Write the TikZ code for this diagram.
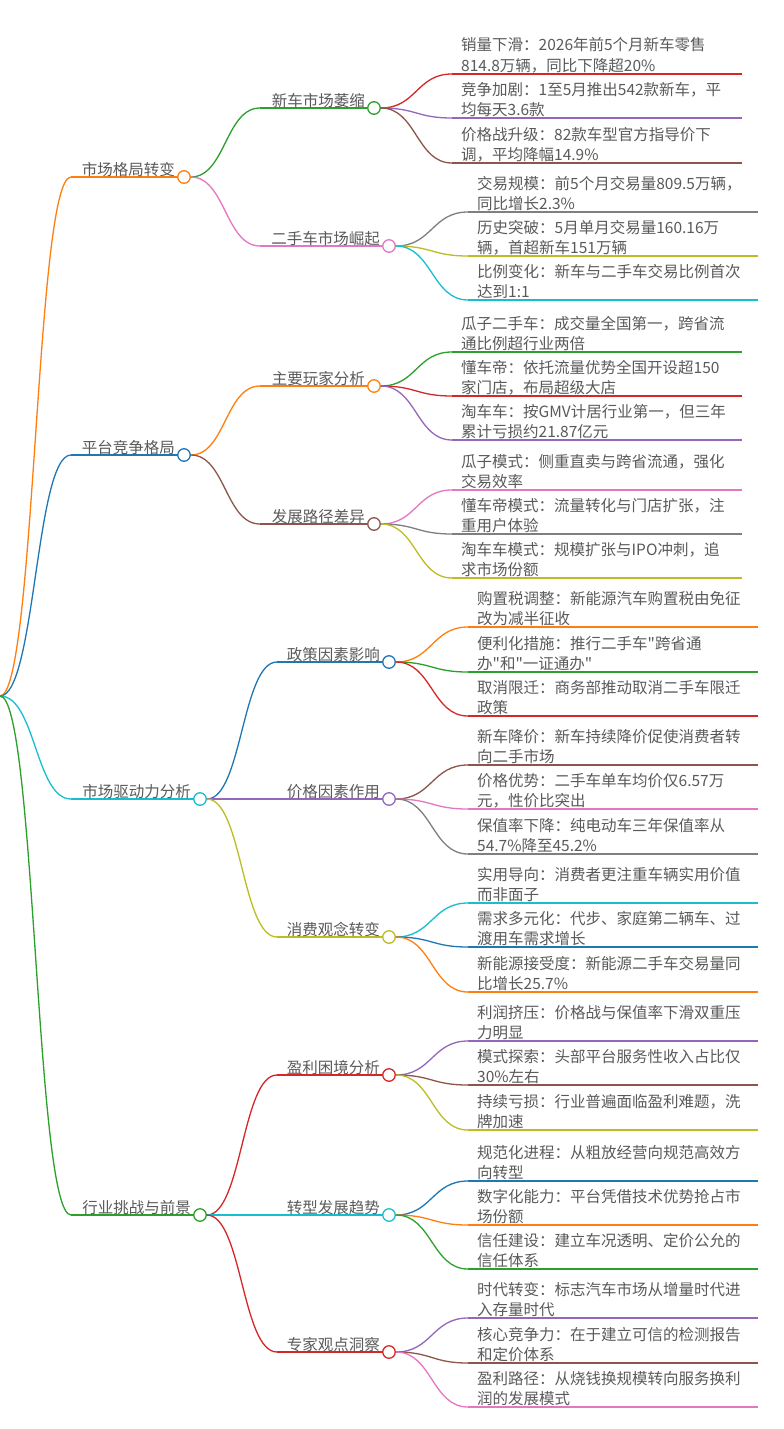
\documentclass[tikz,border=0pt]{standalone}
\usepackage{fontspec}
\setmainfont{Noto Sans CJK SC}
\newfontfamily\qfont[Ligatures=ResetAll]{Noto Sans CJK SC}
\usetikzlibrary{calc}
\definecolor{cblue}{HTML}{1F77B4}
\definecolor{corange}{HTML}{FF7F0E}
\definecolor{cgreen}{HTML}{2CA02C}
\definecolor{cred}{HTML}{D62728}
\definecolor{cpurple}{HTML}{9467BD}
\definecolor{cbrown}{HTML}{8C564B}
\definecolor{cpink}{HTML}{E377C2}
\definecolor{cgray}{HTML}{7F7F7F}
\definecolor{colive}{HTML}{BCBD22}
\definecolor{ccyan}{HTML}{17BECF}
\definecolor{txtgray}{HTML}{5A5A5A}
\newcommand{\sq}{{\qfont\char34}}
\tikzset{
  link/.style={line width=1.3pt,
    to path={let \p1=(\tikztostart), \p2=(\tikztotarget) in
      .. controls ({(\x1+\x2)/2},\y1) and ({(\x1+\x2)/2},\y2) .. (\tikztotarget)}},
  uline/.style={line width=1.3pt},
  dot/.style={circle, draw=#1, fill=white, line width=1.3pt, minimum size=12.5pt, inner sep=0pt},
  lbl/.style={inner sep=0pt, text=txtgray, font=\fontsize{15.5}{20}\selectfont},
  leaftext/.style={inner sep=0pt, text=txtgray, font=\fontsize{15.5}{20}\selectfont},
}
\newcommand{\mmlone}[5]{%
  \coordinate (#1-s) at (71,#3);
  \node[dot=#4] (#1) at (#2,#3) {};
  \draw[link,#4] (R) to (#1-s);
  \draw[uline,#4] (#1-s) -- (#1.west);
  \node[lbl, anchor=base east] (#1-t) at (#2-9,#3-2) {#5};
}
\newcommand{\mmltwo}[7]{%
  \coordinate (#1-s) at (#3,#5);
  \node[dot=#6] (#1) at (#4,#5) {};
  \draw[link,#6] (#2.east) to (#1-s);
  \draw[uline,#6] (#1-s) -- (#1.west);
  \node[lbl, anchor=base east] (#1-t) at (#4-9,#5-2) {#7};
}
\newcommand{\mmleaf}[7]{%
  \coordinate (#1-s) at (#3,#4);
  \coordinate (#1-e) at (#3+290,#4);
  \draw[link,#5] (#2.east) to (#1-s);
  \draw[uline,#5] (#1-s) -- (#1-e);
  \node[leaftext, anchor=base west] (#1-a) at (#3+9,#4-23) {#6};
  \node[leaftext, anchor=base west] (#1-b) at (#3+9,#4-3) {#7};
}
\begin{document}
\begin{tikzpicture}[x=1pt,y=-1pt]
\useasboundingbox[fill=white] (0,0) rectangle (784,1429);
\coordinate (R) at (0,696);
% level 1
\mmlone{A}{184}{177}{corange}{市场格局转变}
\mmlone{B}{184}{455}{cblue}{平台竞争格局}
\mmlone{C}{200}{799}{ccyan}{市场驱动力分析}
\mmlone{D}{200}{1215}{cgreen}{行业挑战与前景}
% level 2
\mmltwo{A1}{A}{260}{374}{108}{cgreen}{新车市场萎缩}
\mmltwo{A2}{A}{260}{389}{246}{cpink}{二手车市场崛起}
\mmltwo{B1}{B}{260}{374}{386}{corange}{主要玩家分析}
\mmltwo{B2}{B}{260}{374}{524}{cbrown}{发展路径差异}
\mmltwo{C1}{C}{277}{389}{662}{cblue}{政策因素影响}
\mmltwo{C2}{C}{277}{389}{799}{cpurple}{价格因素作用}
\mmltwo{C3}{C}{277}{389}{937}{colive}{消费观念转变}
\mmltwo{D1}{D}{277}{389}{1075}{cred}{盈利困境分析}
\mmltwo{D2}{D}{277}{389}{1215}{ccyan}{转型发展趋势}
\mmltwo{D3}{D}{277}{389}{1352}{cred}{专家观点洞察}
% leaves
\mmleaf{A1a}{A1}{452}{74}{cred}{销量下滑：2026年前5个月新车零售}{814.8万辆，同比下降超20\%}
\mmleaf{A1b}{A1}{452}{118}{cpurple}{竞争加剧：1至5月推出542款新车，平}{均每天3.6款}
\mmleaf{A1c}{A1}{452}{163}{cbrown}{价格战升级：82款车型官方指导价下}{调，平均降幅14.9\%}
\mmleaf{A2a}{A2}{468}{212}{cgray}{交易规模：前5个月交易量809.5万辆，}{同比增长2.3\%}
\mmleaf{A2b}{A2}{468}{256}{colive}{历史突破：5月单月交易量160.16万}{辆，首超新车151万辆}
\mmleaf{A2c}{A2}{468}{300}{ccyan}{比例变化：新车与二手车交易比例首次}{达到1:1}
\mmleaf{B1a}{B1}{452}{352}{cgreen}{瓜子二手车：成交量全国第一，跨省流}{通比例超行业两倍}
\mmleaf{B1b}{B1}{452}{396}{cred}{懂车帝：依托流量优势全国开设超150}{家门店，布局超级大店}
\mmleaf{B1c}{B1}{452}{440}{cpurple}{淘车车：按GMV计居行业第一，但三年}{累计亏损约21.87亿元}
\mmleaf{B2a}{B2}{452}{490}{cpink}{瓜子模式：侧重直卖与跨省流通，强化}{交易效率}
\mmleaf{B2b}{B2}{452}{534}{cgray}{懂车帝模式：流量转化与门店扩张，注}{重用户体验}
\mmleaf{B2c}{B2}{452}{578}{colive}{淘车车模式：规模扩张与IPO冲刺，追}{求市场份额}
\mmleaf{C1a}{C1}{468}{627}{corange}{购置税调整：新能源汽车购置税由免征}{改为减半征收}
\mmleaf{C1b}{C1}{468}{672}{cgreen}{便利化措施：推行二手车\sq 跨省通}{办\sq 和\sq 一证通办\sq}
\mmleaf{C1c}{C1}{468}{716}{cred}{取消限迁：商务部推动取消二手车限迁}{政策}
\mmleaf{C2a}{C2}{468}{765}{cbrown}{新车降价：新车持续降价促使消费者转}{向二手市场}
\mmleaf{C2b}{C2}{468}{809}{cpink}{价格优势：二手车单车均价仅6.57万}{元，性价比突出}
\mmleaf{C2c}{C2}{468}{854}{cgray}{保值率下降：纯电动车三年保值率从}{54.7\%降至45.2\%}
\mmleaf{C3a}{C3}{468}{903}{ccyan}{实用导向：消费者更注重车辆实用价值}{而非面子}
\mmleaf{C3b}{C3}{468}{947}{cblue}{需求多元化：代步、家庭第二辆车、过}{渡用车需求增长}
\mmleaf{C3c}{C3}{468}{992}{corange}{新能源接受度：新能源二手车交易量同}{比增长25.7\%}
\mmleaf{D1a}{D1}{468}{1041}{cpurple}{利润挤压：价格战与保值率下滑双重压}{力明显}
\mmleaf{D1b}{D1}{468}{1085}{cbrown}{模式探索：头部平台服务性收入占比仅}{30\%左右}
\mmleaf{D1c}{D1}{468}{1130}{colive}{持续亏损：行业普遍面临盈利难题，洗}{牌加速}
\mmleaf{D2a}{D2}{468}{1181}{cblue}{规范化进程：从粗放经营向规范高效方}{向转型}
\mmleaf{D2b}{D2}{468}{1225}{corange}{数字化能力：平台凭借技术优势抢占市}{场份额}
\mmleaf{D2c}{D2}{468}{1269}{cgreen}{信任建设：建立车况透明、定价公允的}{信任体系}
\mmleaf{D3a}{D3}{468}{1318}{cpurple}{时代转变：标志汽车市场从增量时代进}{入存量时代}
\mmleaf{D3b}{D3}{468}{1363}{cbrown}{核心竞争力：在于建立可信的检测报告}{和定价体系}
\mmleaf{D3c}{D3}{468}{1407}{cpink}{盈利路径：从烧钱换规模转向服务换利}{润的发展模式}
\end{tikzpicture}
\end{document}
